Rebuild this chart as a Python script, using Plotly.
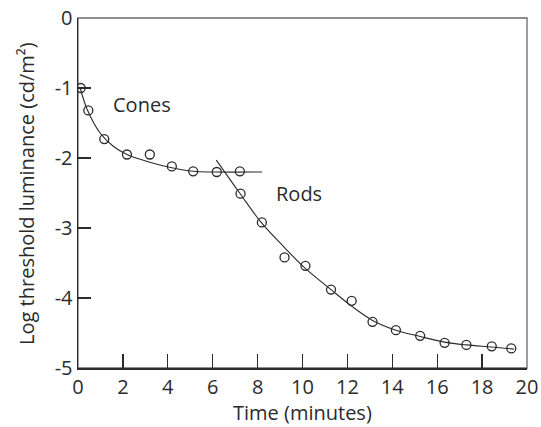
import plotly.graph_objects as go

# Measured data points (time in minutes, log threshold luminance)
time_pts = [0.12, 0.46, 1.17, 2.18, 3.2, 4.18, 5.13, 6.18, 7.21, 7.24, 8.19, 9.2, 10.13,
            11.27, 12.19, 13.12, 14.16, 15.24, 16.33, 17.3, 18.43, 19.3]
lum_pts = [-1.0, -1.32, -1.73, -1.95, -1.95, -2.12, -2.19, -2.2, -2.19, -2.51, -2.92, -3.42, -3.54,
           -3.88, -4.04, -4.34, -4.46, -4.54, -4.64, -4.67, -4.69, -4.72]

# Cone fitted curve
cone_t = [0.1, 0.4, 1.0, 1.6, 2.18, 3.2, 4.18, 5.13, 6.0, 8.2]
cone_y = [-1.0, -1.3, -1.65, -1.84, -1.95, -2.06, -2.14, -2.19, -2.2, -2.2]

# Rod fitted curve
rod_t = [6.16, 7.2, 8.16, 9.2, 10.1, 11.27, 12.2, 13.12, 14.16, 15.24, 16.33, 17.3, 18.43, 19.42]
rod_y = [-2.03, -2.5, -2.92, -3.28, -3.57, -3.88, -4.12, -4.32, -4.46, -4.55, -4.63, -4.67, -4.7, -4.73]

x_ticks = [0, 2, 4, 6, 8, 10, 12, 14, 16, 18, 20]
x_labels = ["0", "2", "4", "6", "8", "10", "12", "14", "16", "18", "20"]
y_ticks = [0, -1, -2, -3, -4, -5]
y_labels = ["0", "-1", "-2", "-3", "-4", "-5"]

ink = "#2b2b2b"
font_family = "'Open Sans', 'Noto Sans', sans-serif"

fig = go.Figure()
fig.add_trace(go.Scatter(x=cone_t, y=cone_y, mode="lines", line=dict(color=ink, width=1.1, shape="spline"),
                         hoverinfo="skip", showlegend=False))
fig.add_trace(go.Scatter(x=rod_t, y=rod_y, mode="lines", line=dict(color=ink, width=1.1, shape="spline"),
                         hoverinfo="skip", showlegend=False))
fig.add_trace(go.Scatter(x=time_pts, y=lum_pts, mode="markers",
                         marker=dict(symbol="circle-open", size=9, color=ink, line=dict(width=1.3, color=ink)),
                         showlegend=False))

fig.add_annotation(x=2.85, y=-1.24, text="Cones", showarrow=False,
                   font=dict(size=20, color=ink, family=font_family))
fig.add_annotation(x=9.84, y=-2.5, text="Rods", showarrow=False,
                   font=dict(size=20, color=ink, family=font_family))

# axis titles
fig.add_annotation(xref="paper", yref="paper", x=0.5, y=-0.126, text="Time (minutes)", showarrow=False,
                   yanchor="middle", font=dict(size=20, color=ink, family=font_family))
fig.add_annotation(xref="paper", yref="paper", x=-0.116, y=0.5, text="Log threshold luminance (cd/m²)",
                   showarrow=False, textangle=-90, xanchor="center", yanchor="middle",
                   font=dict(size=20, color=ink, family=font_family))

# gray box on top/right
fig.add_shape(type="rect", xref="paper", yref="paper", x0=0, y0=0, x1=1, y1=1,
              line=dict(color="#6a6a6a", width=1.3), layer="below")

fig.update_xaxes(range=[0, 20], tickvals=x_ticks, ticktext=x_labels, ticks="inside", ticklen=14, tickwidth=1.3,
                 tickcolor=ink, showline=True, linecolor=ink, linewidth=1.5, showgrid=False, zeroline=False,
                 automargin=False, tickfont=dict(size=20, color=ink, family=font_family))
fig.update_yaxes(range=[-5, 0], tickvals=y_ticks, ticktext=y_labels, ticks="inside", ticklen=13, tickwidth=1.3,
                 tickcolor=ink, showline=True, linecolor=ink, linewidth=1.5, showgrid=False, zeroline=False,
                 automargin=False, tickfont=dict(size=20, color=ink, family=font_family))

fig.update_layout(width=541, height=427, margin=dict(l=78, r=14, t=18, b=59, autoexpand=False),
                  paper_bgcolor="white", plot_bgcolor="white")

fig.write_html("out.html", config={"displayModeBar": False, "staticPlot": True},
               post_script="document.body.style.margin='0';document.body.style.overflow='hidden';")
